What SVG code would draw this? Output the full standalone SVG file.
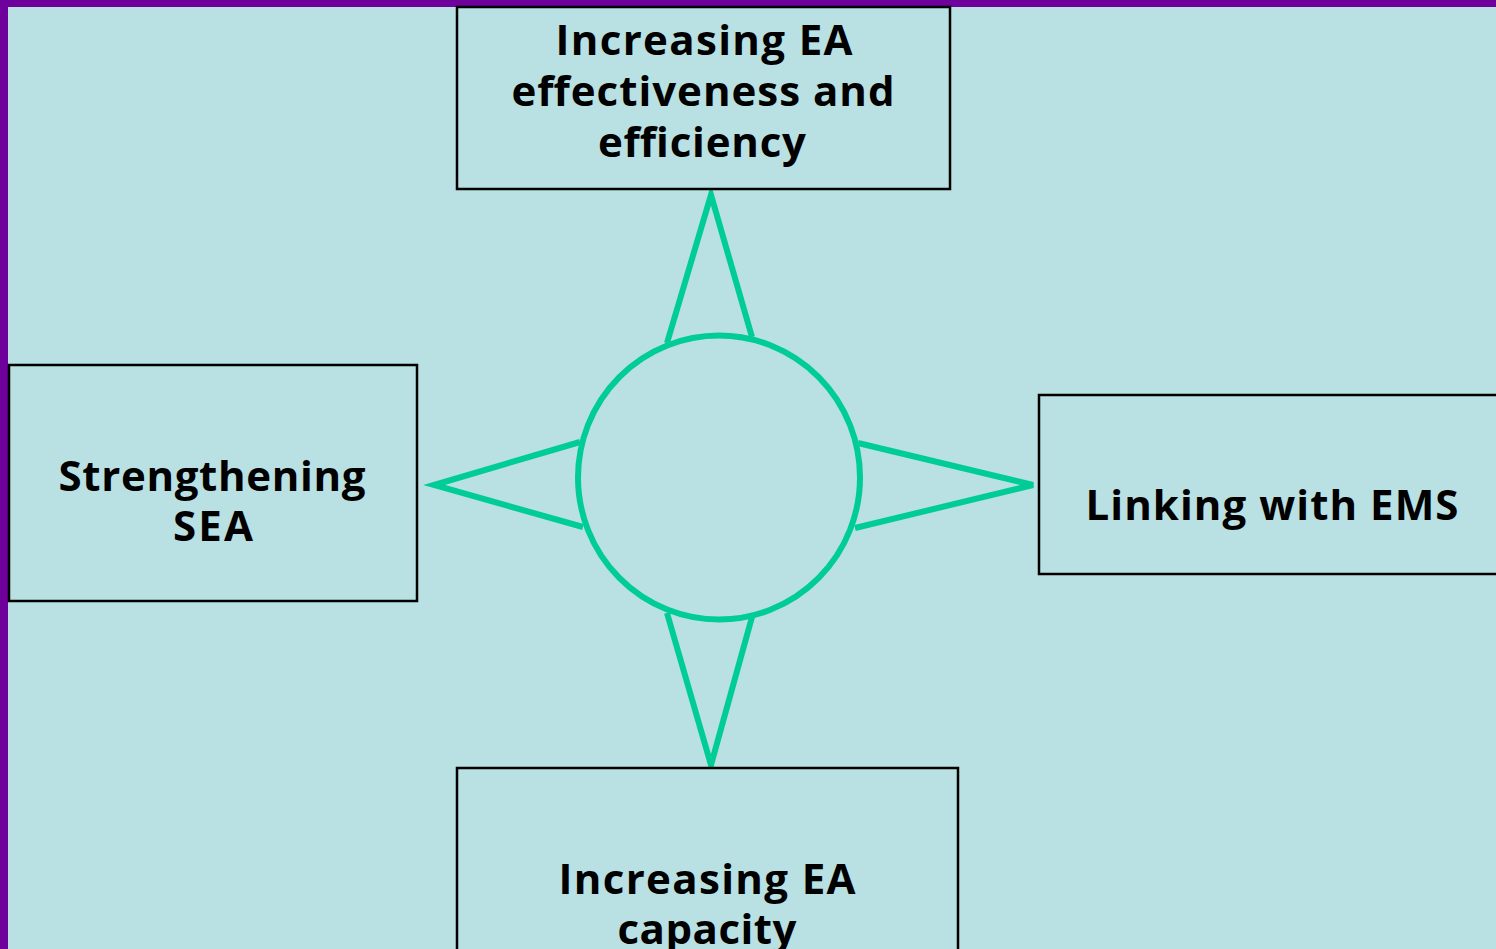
<svg xmlns="http://www.w3.org/2000/svg" width="1496" height="949" viewBox="0 0 1496 949">
<style>
.box{fill:#b9e0e3;stroke:#000;stroke-width:2.5}
.lbl{font-family:"Open Sans","DejaVu Sans",sans-serif;font-weight:bold;font-size:42px;fill:#000;text-anchor:middle}
.g{fill:none;stroke:#00cc96;stroke-width:6;stroke-linejoin:miter}
</style>
<rect x="0" y="0" width="1496" height="949" fill="#6e009c"/>
<rect x="8" y="7" width="1488" height="942" fill="#b9e0e3"/>
<g id="connectors">
<polyline class="g" points="667,343 711,195 752,337"/>
<polyline class="g" points="667,613 711,765 752,617"/>
<polyline class="g" points="580,442 434,485 583,527"/>
<polyline class="g" points="858,443 1033,485 855,528"/>
<ellipse class="g" cx="719" cy="477.5" rx="141" ry="142"/>
</g>
<g id="top">
<rect class="box" x="457" y="7" width="493" height="182"/>
<text class="lbl" x="704" y="55" textLength="297" lengthAdjust="spacing">Increasing EA</text>
<text class="lbl" x="703" y="106" textLength="383" lengthAdjust="spacing">effectiveness and</text>
<text class="lbl" x="702" y="157" textLength="208" lengthAdjust="spacing">efficiency</text>
</g>
<g id="left">
<rect class="box" x="9" y="365" width="408" height="236"/>
<text class="lbl" x="212" y="491" textLength="307" lengthAdjust="spacing">Strengthening</text>
<text class="lbl" x="213" y="541" textLength="80" lengthAdjust="spacing">SEA</text>
</g>
<g id="right">
<rect class="box" x="1039" y="395" width="470" height="179"/>
<text class="lbl" x="1272" y="520" textLength="373" lengthAdjust="spacing">Linking with EMS</text>
</g>
<g id="bottom">
<rect class="box" x="457" y="768" width="501" height="200"/>
<text class="lbl" x="707" y="894" textLength="297" lengthAdjust="spacing">Increasing EA</text>
<text class="lbl" x="707" y="944" textLength="179" lengthAdjust="spacing">capacity</text>
</g>
</svg>
